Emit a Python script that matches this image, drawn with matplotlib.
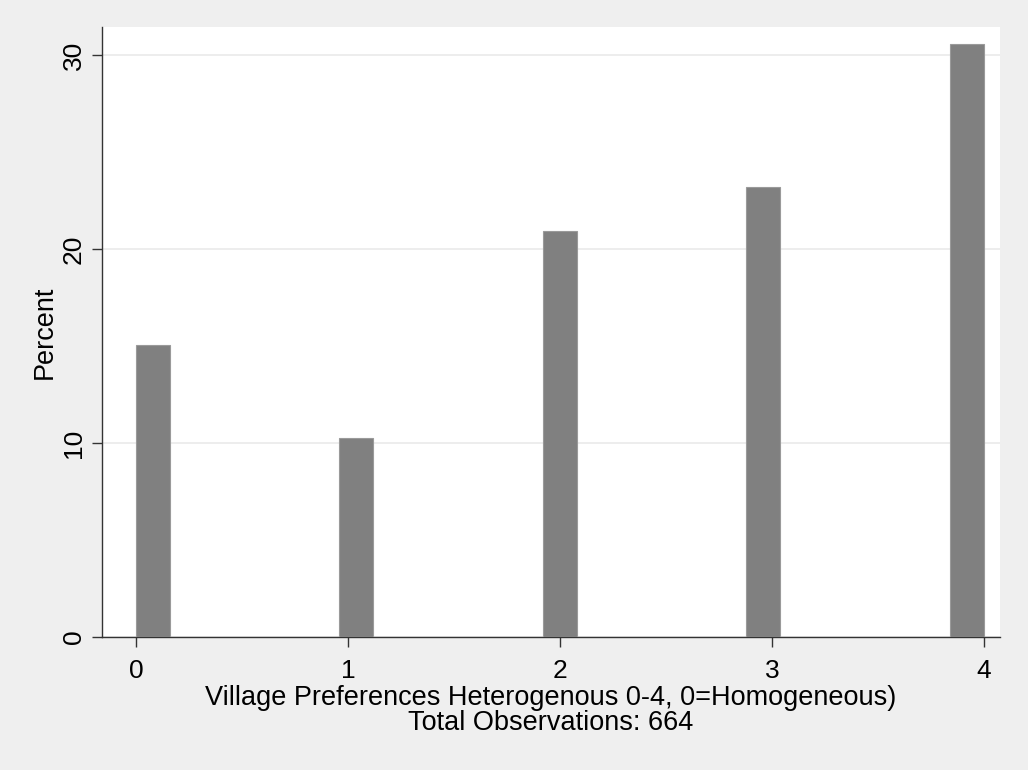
import matplotlib
matplotlib.use("Agg")
import matplotlib.pyplot as plt

# histogram bins (left edges, width 0.16) and percent of 664 obs
bin_left = [0.0, 0.96, 1.92, 2.88, 3.84]
percent = [15.06, 10.24, 20.93, 23.19, 30.57]
bin_width = 0.16
x_ticks = [0, 1, 2, 3, 4]
y_ticks = [0, 10, 20, 30]
x_title = "Village Preferences Heterogenous 0-4, 0=Homogeneous)"
x_note = "Total Observations: 664"
y_label = "Percent"

plt.rcParams["font.family"] = ["Liberation Sans", "DejaVu Sans"]

fig = plt.figure(figsize=(10.28, 7.7), dpi=100)
fig.patch.set_facecolor("#efefef")
ax = fig.add_axes([0.0992, 0.1727, 0.8735, 0.7922])
ax.set_facecolor("white")

ax.bar(bin_left, percent, width=bin_width, align="edge",
       color="#808080", edgecolor="#9a9a9a", linewidth=0.8, zorder=3)

ax.set_xlim(-0.16, 4.076)
ax.set_ylim(0, 31.44)
ax.set_xticks(x_ticks)
ax.set_yticks(y_ticks)
ax.grid(axis="y", color="#eaeaea", linewidth=1.2, zorder=0)

for s in ["top", "right"]:
    ax.spines[s].set_visible(False)
for s in ["left", "bottom"]:
    ax.spines[s].set_color("#333333")
    ax.spines[s].set_linewidth(1.0)

ax.tick_params(axis="both", direction="out", length=7.5, width=1.0,
               color="#333333", labelsize=19)
ax.tick_params(axis="x", pad=8)
ax.tick_params(axis="y", pad=4)
for lbl in ax.get_yticklabels():
    lbl.set_rotation(90)
    lbl.set_va("center")

ax.set_ylabel(y_label, fontsize=19.5, labelpad=3)

fig.text(0.536, 1 - 698 / 770, x_title, fontsize=19.5, ha="center", va="center")
fig.text(0.536, 1 - 723 / 770, x_note, fontsize=19.5, ha="center", va="center")

fig.savefig("out.png", dpi=100, facecolor=fig.get_facecolor())
